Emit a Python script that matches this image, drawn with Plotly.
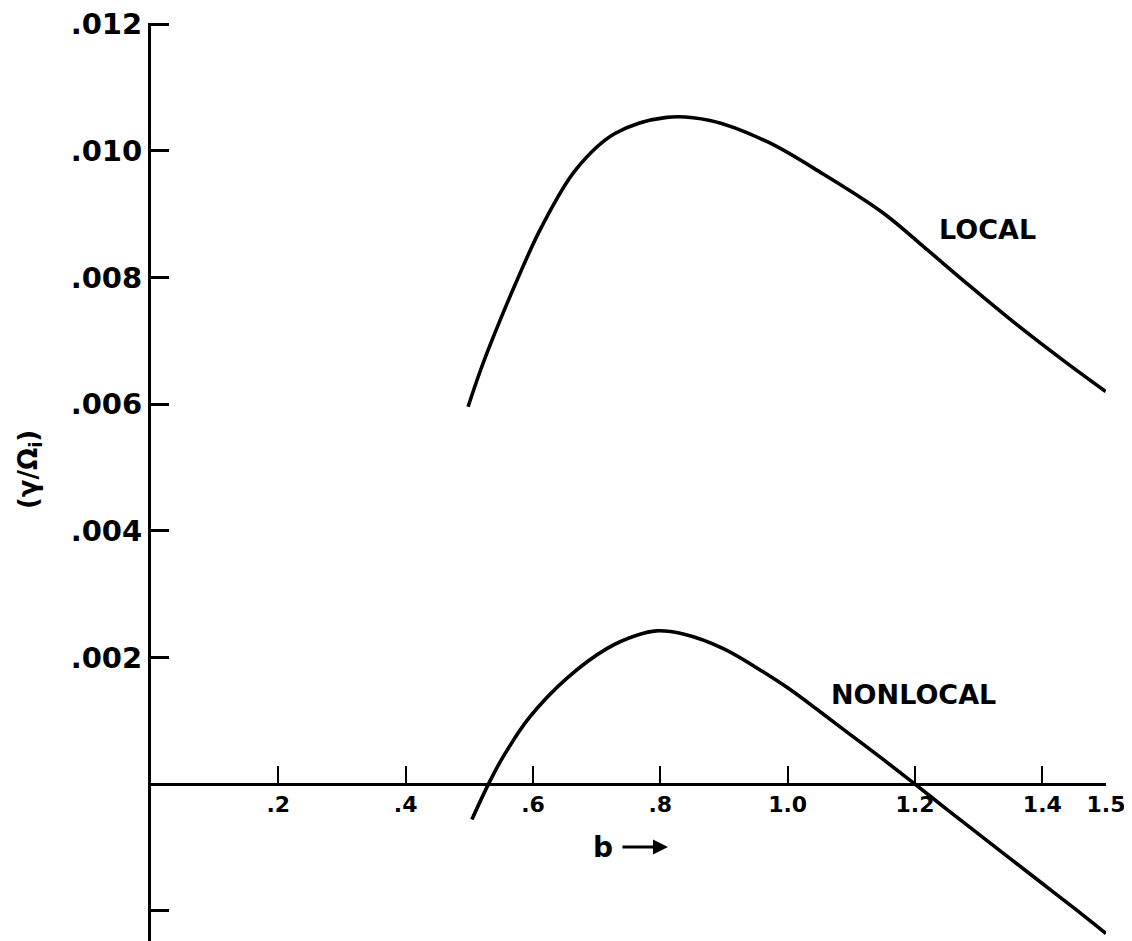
import plotly.graph_objects as go

# LOCAL curve (b, gamma/Omega_i)
local_b = [0.498, 0.517, 0.538, 0.572, 0.6125, 0.667, 0.728, 0.810, 0.878, 0.967,
           1.055, 1.150, 1.219, 1.287, 1.362, 1.437, 1.4995]
local_g = [0.00596, 0.00652, 0.00707, 0.00789, 0.00878, 0.00970, 0.01027, 0.01053,
           0.01048, 0.01015, 0.00964, 0.00902, 0.00844, 0.00786, 0.00724, 0.00666, 0.00620]

# NONLOCAL curve
nonlocal_b = [0.504, 0.530, 0.553, 0.595, 0.653, 0.716, 0.763, 0.794, 0.836, 0.899,
              0.962, 1.00, 1.05, 1.10, 1.15, 1.20, 1.25, 1.30, 1.35, 1.40, 1.45, 1.50]
nonlocal_g = [-0.00056, 0.0000, 0.00043, 0.00106, 0.00167, 0.00214, 0.00235, 0.00242,
              0.00237, 0.00214, 0.00177, 0.00152, 0.00115, 0.00077, 0.00039, 0.0000,
              -0.00040, -0.00079, -0.00118, -0.00157, -0.00196, -0.00236]

x_tickvals = [0.2, 0.4, 0.6, 0.8, 1.0, 1.2, 1.4, 1.5]
x_ticktext = [".2", ".4", ".6", ".8", "1.0", "1.2", "1.4", "1.5"]
y_tickvals = [0.012, 0.010, 0.008, 0.006, 0.004, 0.002, -0.002]
y_ticktext = [".012", ".010", ".008", ".006", ".004", ".002", ""]

Y_MIN, Y_MAX = -0.002478, 0.01202
FONT = "DejaVu Sans"

fig = go.Figure()
for xs, ys in ((local_b, local_g), (nonlocal_b, nonlocal_g)):
    fig.add_trace(go.Scatter(x=xs, y=ys, mode="lines",
                             line=dict(color="black", width=3.6, shape="spline", smoothing=1.0),
                             showlegend=False, hoverinfo="skip"))

zero_pos = (0 - Y_MIN) / (Y_MAX - Y_MIN)

def f(size):
    return dict(family=FONT, size=size, color="black", weight="bold")

fig.update_layout(
    width=1124, height=933,
    margin=dict(l=143, r=26, t=15, b=0),
    paper_bgcolor="white", plot_bgcolor="white",
    font=dict(family=FONT, color="black"),
    xaxis=dict(range=[0, 1.5], showgrid=False, zeroline=False,
               anchor="free", position=zero_pos,
               showline=True, linecolor="black", linewidth=3,
               ticks="inside", ticklen=17, tickwidth=2, tickcolor="black",
               tickvals=x_tickvals, ticktext=x_ticktext,
               ticklabeloverflow="allow",
               tickfont=f(22)),
    yaxis=dict(range=[Y_MIN, Y_MAX], showgrid=False, zeroline=False,
               showline=True, linecolor="black", linewidth=3,
               ticks="inside", ticklen=18, tickwidth=2.5, tickcolor="black",
               tickvals=y_tickvals, ticktext=y_ticktext,
               ticklabeloverflow="allow",
               tickfont=f(29)),
    annotations=[
        dict(x=1.3146, y=0.00876, xref="x", yref="y", text="LOCAL", showarrow=False,
             font=f(27)),
        dict(x=1.198, y=0.00142, xref="x", yref="y", text="NONLOCAL", showarrow=False,
             font=f(27)),
        dict(x=0.71, y=-0.000994, xref="x", yref="y", text="b", showarrow=False,
             font=f(28)),
        dict(x=0.812, y=-0.000994, xref="x", yref="y", text="", showarrow=True,
             ax=-47, ay=0, arrowhead=2, arrowsize=1, arrowwidth=3, arrowcolor="black"),
        dict(x=-0.1277, y=0.00496, xref="paper", yref="y", text="(γ/Ω<sub>i</sub>)",
             textangle=-90, showarrow=False, xanchor="center", yanchor="middle",
             font=f(26)),
    ],
)

fig.write_html("out.html")
